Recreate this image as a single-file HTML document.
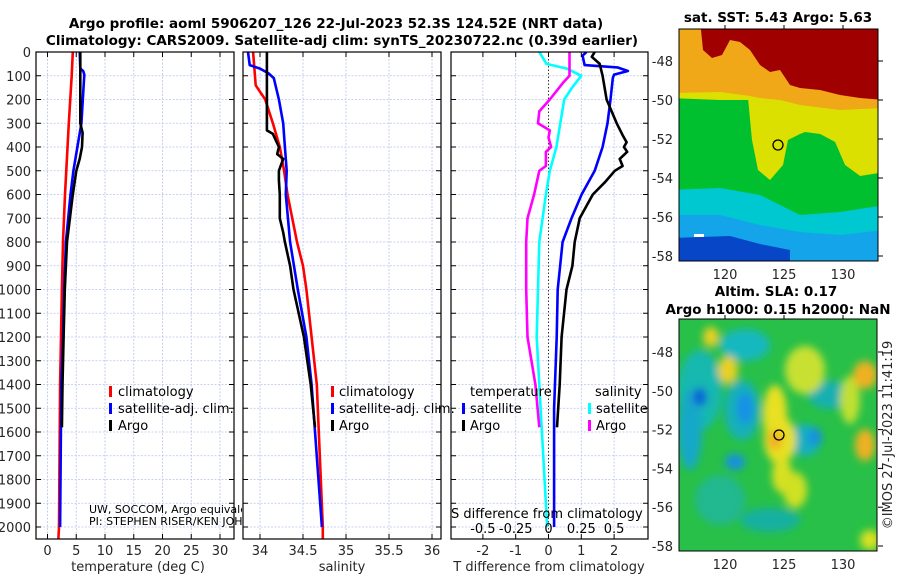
<!DOCTYPE html>
<html><head><meta charset="utf-8">
<style>
html,body{margin:0;padding:0;background:#fff;}
svg{display:block;font-family:"DejaVu Sans","Liberation Sans",sans-serif;}
.tk{font-size:13px;fill:#262626;}
.tt{font-size:13.5px;font-weight:bold;fill:#000;}
.lg{font-size:13px;fill:#000;}
</style></head>
<body>
<svg id="fig" width="900" height="580" viewBox="0 0 900 580" xmlns="http://www.w3.org/2000/svg">
<defs>
<clipPath id="c1"><rect x="36" y="52" width="198" height="487"/></clipPath>
<clipPath id="c2"><rect x="243" y="52" width="198" height="487"/></clipPath>
<clipPath id="c3"><rect x="451" y="52" width="197" height="487"/></clipPath>
<clipPath id="cm1"><rect x="679" y="29" width="199" height="232"/></clipPath>
<clipPath id="cm2"><rect x="679" y="319" width="198" height="232"/></clipPath>
<filter id="bl" x="-50%" y="-50%" width="200%" height="200%"><feGaussianBlur stdDeviation="4"/></filter>
</defs>
<text class="tt" x="336" y="28" text-anchor="middle">Argo profile: aoml 5906207_126 22-Jul-2023 52.3S 124.52E (NRT data)</text>
<text class="tt" x="342" y="45" text-anchor="middle">Climatology: CARS2009. Satellite-adj clim: synTS_20230722.nc (0.39d earlier)</text>
<g id="grids"></g>
<g id="lines"></g>
<g id="axes"></g>

<!-- SST map -->
<g clip-path="url(#cm1)">
<rect x="670" y="20" width="215" height="250" fill="#14a4ea"/>
<path d="M670,185 H885 V230 L840,235 L800,232 L760,225 L720,215 L670,215 Z" fill="#00c8d0"/>
<path d="M670,238 L730,236 L760,244 L790,250 V270 H670 Z" fill="#0846c8"/>
<path d="M670,94 H885 L885,205 L840,212 L800,215 L760,195 L720,188 L670,190 Z" fill="#00c030"/>
<path d="M670,90 L885,90 V100 L720,100 L670,98 Z" fill="#dce000"/>
<path d="M748,98 L800,98 L800,134 L788,140 L783,165 L770,180 L758,170 L752,140 Z" fill="#dce000"/>
<path d="M790,98 L885,98 V172 L860,176 L845,165 L835,142 L820,134 L805,132 L795,136 Z" fill="#dce000"/>
<path d="M790,140 L800,134 L820,134 L835,142 L845,165 L860,176 L860,200 L790,200 Z" fill="#00c030"/>
<path d="M670,20 H885 V108 L840,110 L800,105 L780,100 L760,98 L750,96 L720,92 L670,93 Z" fill="#f0a818"/>
<path d="M700,20 H885 V100 L860,98 L840,95 L820,90 L800,88 L790,85 L780,70 L770,72 L760,65 L750,50 L740,42 L730,40 L722,55 L712,58 L703,50 L700,20 Z" fill="#a00000"/>
<rect x="694" y="234" width="10" height="3" fill="#fff"/>
</g>
<rect x="679" y="29" width="199" height="232" fill="none" stroke="#000" stroke-width="1"/>
<circle cx="778" cy="145" r="5" fill="none" stroke="#000" stroke-width="1.3"/>
<text class="tt" x="778" y="22" text-anchor="middle">sat. SST: 5.43 Argo: 5.63</text>

<!-- SLA map -->
<g clip-path="url(#cm2)">
<rect x="679" y="319" width="198" height="232" fill="#28c048"/>
<g filter="url(#bl)">
<ellipse cx="745" cy="345" rx="25" ry="16" fill="#18b8c0"/>
<ellipse cx="700" cy="390" rx="22" ry="40" fill="#18b8b0"/>
<ellipse cx="690" cy="430" rx="12" ry="40" fill="#18a8c8"/>
<ellipse cx="742" cy="410" rx="18" ry="30" fill="#18b0b8"/>
<ellipse cx="745" cy="408" rx="8" ry="16" fill="#1890e8"/>
<ellipse cx="700" cy="397" rx="7" ry="9" fill="#1060d8"/>
<ellipse cx="735" cy="462" rx="10" ry="8" fill="#1890e0"/>
<ellipse cx="805" cy="440" rx="16" ry="16" fill="#18b0c0"/>
<ellipse cx="815" cy="437" rx="7" ry="9" fill="#1890e0"/>
<ellipse cx="830" cy="395" rx="22" ry="14" fill="#18b0b0"/>
<ellipse cx="770" cy="520" rx="30" ry="12" fill="#18b0a0"/>
<ellipse cx="720" cy="500" rx="25" ry="25" fill="#20b890"/>
<ellipse cx="775" cy="415" rx="12" ry="30" fill="#e8e020"/>
<ellipse cx="780" cy="440" rx="16" ry="24" fill="#e8e020"/>
<ellipse cx="782" cy="475" rx="10" ry="18" fill="#d8e020"/>
<ellipse cx="795" cy="490" rx="12" ry="18" fill="#d0e020"/>
<ellipse cx="728" cy="370" rx="10" ry="14" fill="#e8d020"/>
<ellipse cx="711" cy="337" rx="8" ry="10" fill="#e8d020"/>
<ellipse cx="805" cy="370" rx="20" ry="24" fill="#c8e030"/>
<ellipse cx="850" cy="400" rx="10" ry="24" fill="#c0e030"/>
<ellipse cx="865" cy="375" rx="12" ry="14" fill="#f0b020"/>
<ellipse cx="865" cy="445" rx="10" ry="16" fill="#f0b020"/>
<ellipse cx="870" cy="540" rx="10" ry="10" fill="#d8e020"/>
<ellipse cx="775" cy="440" rx="7" ry="10" fill="#f0b020"/>
</g>
</g>
<rect x="679" y="319" width="198" height="232" fill="none" stroke="#000" stroke-width="1"/>
<circle cx="779" cy="435" r="5" fill="none" stroke="#000" stroke-width="1.3"/>
<text class="tt" x="776" y="296" text-anchor="middle">Altim. SLA: 0.17</text>
<text class="tt" x="778" y="314" text-anchor="middle">Argo h1000: 0.15 h2000: NaN</text>
<text class="tk" transform="translate(892,435) rotate(-90)" text-anchor="middle">©IMOS 27-Jul-2023 11:41:19</text>

<!-- legends and annotations -->
<g>
<rect x="109" y="386" width="3" height="11" fill="#f00"/><text class="lg" x="118" y="396">climatology</text>
<rect x="109" y="403" width="3" height="11" fill="#00f"/><text class="lg" x="118" y="413">satellite-adj. clim.</text>
<rect x="109" y="420" width="3" height="11" fill="#000"/><text class="lg" x="118" y="430">Argo</text>
</g>
<rect x="235" y="395" width="7" height="25" fill="#fff"/>
<g>
<rect x="331" y="386" width="3" height="11" fill="#f00"/><text class="lg" x="339" y="396">climatology</text>
<rect x="331" y="403" width="3" height="11" fill="#00f"/><text class="lg" x="339" y="413">satellite-adj. clim.</text>
<rect x="331" y="420" width="3" height="11" fill="#000"/><text class="lg" x="339" y="430">Argo</text>
</g>
<g>
<text class="lg" x="470" y="396">temperature</text>
<rect x="462" y="403" width="3" height="11" fill="#00f"/><text class="lg" x="470" y="413">satellite</text>
<rect x="462" y="420" width="3" height="11" fill="#000"/><text class="lg" x="470" y="430">Argo</text>
<text class="lg" x="595" y="396">salinity</text>
<rect x="588" y="403" width="3" height="11" fill="#0ff"/><text class="lg" x="596" y="413">satellite</text>
<rect x="588" y="420" width="3" height="11" fill="#f0f"/><text class="lg" x="596" y="430">Argo</text>
</g>
<svg x="0" y="490" width="242" height="40" overflow="hidden">
<text x="89" y="23" font-size="11" fill="#000">UW, SOCCOM, Argo equivalent</text>
<text x="89" y="35" font-size="11" fill="#000">PI: STEPHEN RISER/KEN JOHNSON</text>
</svg>
<text class="lg" x="451" y="518">S difference from climatology</text>
<g id="sticks"></g>
<text class="tk" x="138" y="571" text-anchor="middle">temperature (deg C)</text>
<text class="tk" x="342" y="571" text-anchor="middle">salinity</text>
<text class="tk" x="549" y="571" text-anchor="middle">T difference from climatology</text>
</svg>
<script>
// ---- data ----
var depthTicks=[0,100,200,300,400,500,600,700,800,900,1000,1100,1200,1300,1400,1500,1600,1700,1800,1900,2000];
var tempTicks=[0,5,10,15,20,25,30];
var salTicks=[34,34.5,35,35.5,36];
var salTickLabels=["34","34.5","35","35.5","36"];
var tdiffTicks=[-2,-1,0,1,2];
var sdiffTicks=[-0.5,-0.25,0,0.25,0.5];
var sdiffTickLabels=["-0.5","-0.25","0","0.25","0.5"];

var tClimDepth=[0,100,300,600,800,1000,1400,2000,2050];
var tClimVal=[4.4,4.2,3.7,3.05,2.7,2.5,2.2,2.0,1.9];
var tSatDepth=[0,70,80,95,300,400,500,600,800,1000,1200,1400,2000];
var tSatVal=[5.6,5.7,6.2,6.4,5.9,5.2,4.5,4.0,3.2,2.9,2.7,2.4,2.2];
var tArgoDepth=[0,300,340,400,450,500,600,800,1000,1200,1400,1580];
var tArgoVal=[5.7,5.7,6.1,6.0,5.6,5.0,4.4,3.4,3.0,2.8,2.6,2.5];

var sClimDepth=[0,140,200,300,400,500,600,800,900,1000,1200,1400,2000,2050];
var sClimVal=[33.92,33.95,34.06,34.15,34.23,34.28,34.32,34.43,34.5,34.54,34.6,34.66,34.73,34.73];
var sSatDepth=[0,55,70,90,110,200,300,400,500,600,800,1000,1200,1400,2000];
var sSatVal=[33.86,33.88,34.0,34.1,34.16,34.22,34.27,34.29,34.31,34.30,34.35,34.44,34.54,34.6,34.72];
var sArgoDepth=[0,330,345,400,430,450,470,500,540,600,700,760,800,900,1000,1200,1400,1580];
var sArgoVal=[34.08,34.08,34.15,34.22,34.2,34.27,34.25,34.22,34.22,34.23,34.23,34.27,34.29,34.35,34.39,34.51,34.59,34.64];

var dtSatDepth=[0,15,55,65,80,95,110,200,300,400,500,600,700,800,1000,1200,1500,2000];
var dtSatVal=[1.16,1.04,1.1,2.1,2.42,2.0,1.96,1.89,1.8,1.65,1.41,1.01,0.7,0.43,0.28,0.25,0.17,0.17];
var dtArgoDepth=[0,20,50,100,200,300,350,380,400,420,450,480,500,550,600,700,800,900,1000,1200,1400,1580];
var dtArgoVal=[1.41,1.32,1.56,1.65,1.77,2.08,2.26,2.38,2.3,2.4,2.17,2.26,2.02,1.71,1.35,0.95,0.8,0.73,0.55,0.4,0.34,0.26];
var dsSatDepth=[0,50,70,100,150,200,300,400,500,600,800,1000,1200,1500,2000];
var dsSatVal=[-0.07,-0.015,0.14,0.25,0.18,0.12,0.09,0.06,0.01,-0.02,-0.07,-0.08,-0.09,-0.06,-0.01];
var dsArgoDepth=[0,100,130,200,250,300,330,360,400,420,450,480,500,600,700,800,1000,1200,1400,1580];
var dsArgoVal=[0.16,0.16,0.11,0.01,-0.07,-0.08,0.01,0.0,0.02,-0.02,-0.02,-0.02,-0.07,-0.11,-0.16,-0.17,-0.17,-0.16,-0.1,-0.07];

// ---- scales ----
function yD(d){return 52+d*0.2375;}
function xT(v){return 47.5+v*5.75;}
function xS(v){return 260+(v-34)*86;}
function xDT(v){return 548.5+v*32.8;}
function xDS(v){return 548.5+v*131.2;}
var NS="http://www.w3.org/2000/svg";
function mk(tag,attrs,parent){var e=document.createElementNS(NS,tag);for(var k in attrs)e.setAttribute(k,attrs[k]);parent.appendChild(e);return e;}
var grids=document.getElementById('grids'),lines=document.getElementById('lines'),axes=document.getElementById('axes'),sticks=document.getElementById('sticks');
var panels=[{l:36,r:234,ticks:tempTicks,fx:xT,labels:tempTicks.map(String),name:'temperature'},
 {l:243,r:441,ticks:salTicks,fx:xS,labels:salTickLabels,name:'salinity'},
 {l:451,r:648,ticks:tdiffTicks,fx:xDT,labels:tdiffTicks.map(String),name:'t-difference'}];
panels.forEach(function(p,pi){
  depthTicks.forEach(function(d){
    var g=mk('line',{x1:p.l,x2:p.r,y1:yD(d),y2:yD(d),stroke:'#b8c4ee','stroke-width':0.8,'stroke-dasharray':'2,1.5'},grids);
    
    
    mk('line',{x1:p.l,x2:p.l+5,y1:yD(d),y2:yD(d),stroke:'#000'},axes);
    mk('line',{x1:p.r-5,x2:p.r,y1:yD(d),y2:yD(d),stroke:'#000'},axes);
  });
  p.ticks.forEach(function(t,i){
    var x=p.fx(t);
    if(!(pi==2&&t==0)){
      var g=mk('line',{x1:x,x2:x,y1:52,y2:539,stroke:'#b8c4ee','stroke-width':0.8,'stroke-dasharray':'2,1.5'},grids);
      
      
    }
    mk('line',{x1:x,x2:x,y1:534,y2:539,stroke:'#000'},axes);
    mk('line',{x1:x,x2:x,y1:52,y2:57,stroke:'#000'},axes);
    var tx=mk('text',{x:x,y:555,'text-anchor':'middle','class':'tk'},axes);
    tx.textContent=p.labels[i];
    
    
  });
  var fr=mk('rect',{x:p.l,y:52,width:p.r-p.l,height:487,fill:'none',stroke:'#000','stroke-width':1.2},axes);
  
  
});
depthTicks.forEach(function(d){
  var tx=mk('text',{x:31,y:yD(d)+5,'text-anchor':'end','class':'tk'},axes);
  tx.textContent=String(d);
  
  
});
var zl=mk('line',{x1:xDT(0),x2:xDT(0),y1:52,y2:539,stroke:'#333','stroke-width':1,'stroke-dasharray':'1.5,2'},grids);


sdiffTicks.forEach(function(t,i){
  var tx=mk('text',{x:xDS(t),y:533,'text-anchor':'middle','class':'lg'},sticks);
  tx.textContent=sdiffTickLabels[i];
  
  
});
function series(ds,vs,fx,color,clip,name,w){
  var pts=ds.map(function(d,i){return fx(vs[i]).toFixed(1)+','+yD(d).toFixed(1);}).join(' ');
  var pl=mk('polyline',{points:pts,fill:'none',stroke:color,'stroke-width':w||2.6,'stroke-linejoin':'round','clip-path':'url(#'+clip+')'},lines);
  
  
}
series(tClimDepth,tClimVal,xT,'#f00','c1','temperature-climatology-line');
series(tSatDepth,tSatVal,xT,'#00f','c1','temperature-satellite-line');
series(tArgoDepth,tArgoVal,xT,'#000','c1','temperature-argo-line');
series(sClimDepth,sClimVal,xS,'#f00','c2','salinity-climatology-line');
series(sSatDepth,sSatVal,xS,'#00f','c2','salinity-satellite-line');
series(sArgoDepth,sArgoVal,xS,'#000','c2','salinity-argo-line');
series(dsSatDepth,dsSatVal,xDS,'#0ff','c3','s-difference-satellite-line');
series(dsArgoDepth,dsArgoVal,xDS,'#f0f','c3','s-difference-argo-line');
series(dtSatDepth,dtSatVal,xDT,'#00f','c3','t-difference-satellite-line');
series(dtArgoDepth,dtArgoVal,xDT,'#000','c3','t-difference-argo-line');

var map1=document.getElementById('fig');
var latTicks=[-48,-50,-52,-54,-56,-58];
var lonTicks=[120,125,130];
function mapAxes(top,yOf,xOf,bottom,nm){
  latTicks.forEach(function(l){
    var y=yOf(l);
    var t=mk('text',{x:673,y:y+5,'text-anchor':'end','class':'tk'},map1);
    t.textContent=String(l);
    
    
    mk('line',{x1:878,x2:883,y1:y,y2:y,stroke:'#000'},map1);
  });
  lonTicks.forEach(function(l){
    var x=xOf(l);
    var t=mk('text',{x:x,y:bottom+18,'text-anchor':'middle','class':'tk'},map1);
    t.textContent=String(l);
    
    
    mk('line',{x1:x,x2:x,y1:top-4,y2:top,stroke:'#000'},map1);
  });
}
mapAxes(29,function(l){return 61+(-48-l)*19.5;},function(l){return 725+(l-120)*11.8;},261,'sst-map');
mapAxes(319,function(l){return 352+(-48-l)*19.4;},function(l){return 725+(l-120)*11.8;},551,'sla-map');
</script>
</body></html>
